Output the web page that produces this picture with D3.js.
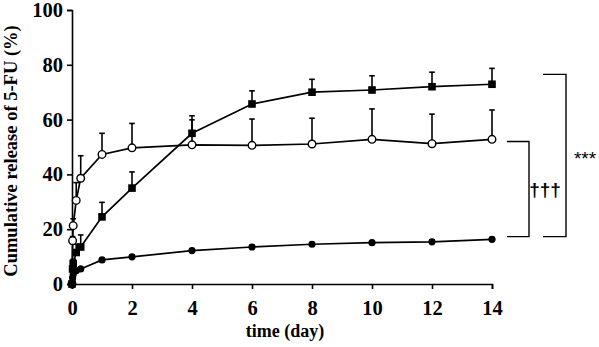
<!DOCTYPE html>
<html>
<head>
<meta charset="utf-8">
<script src="https://cdn.jsdelivr.net/npm/d3@7"></script>
<style>
  html, body { margin: 0; padding: 0; background: #fff; }
  svg { display: block; }
  text { font-family: "Liberation Serif", "Times New Roman", serif; font-weight: bold; fill: #000; }
</style>
</head>
<body>
<svg id="chart" width="599" height="347"></svg>
<script>
// ---- data (time in days, cumulative release %) ----
const times = [0, 0.02, 0.04, 0.14, 0.29, 1, 2, 4, 6, 8, 10, 12, 14];
const openValues   = [0, 15.8, 21.3, 30.5, 38.6, 47.3, 49.7, 50.8, 50.6, 51.1, 52.8, 51.2, 52.8];
const openSD       = [0, 1.5, 2.5, 6.5, 8.2, 7.7, 8.9, 9.1, 9.6, 9.4, 11.1, 10.8, 10.7];
const squareValues = [0, 5.5, 7.5, 11.5, 13.5, 24.5, 35.0, 55.0, 65.7, 70.0, 70.8, 72.0, 72.9];
const squareSD     = [0, 1.0, 1.5, 3.0, 4.4, 5.3, 5.9, 6.4, 4.8, 4.7, 5.2, 5.3, 5.8];
const filledValues = [0, 2.2, 3.5, 4.8, 5.5, 8.8, 9.9, 12.2, 13.5, 14.5, 15.1, 15.4, 16.3];
const filledSD     = [0, 0.3, 0.4, 0.5, 0.5, 0.6, 0.6, 0.7, 0.7, 0.7, 0.7, 0.7, 0.7];
const xTicks = [0, 2, 4, 6, 8, 10, 12, 14];
const yTicks = [0, 20, 40, 60, 80, 100];
const xTitle = "time (day)";
const yTitle = "Cumulative release of 5-FU (%)";
// significance brackets: [lower value, upper value, label]
const brackets = [
  { low: 17.3, high: 52.0, label: "†††" },
  { low: 17.3, high: 76.5, label: "***" }
];

// ---- layout ----
const svg = d3.select("#chart");
const x = d3.scaleLinear().domain([0, 14]).range([72, 492]);
const y = d3.scaleLinear().domain([0, 100]).range([284, 10]);

// axes
const xAxis = svg.append("g").attr("transform", `translate(0,${y(0)})`)
  .call(d3.axisBottom(x).tickValues(xTicks).tickSize(5).tickPadding(11).tickFormat(d3.format("d")));
const yAxis = svg.append("g").attr("transform", `translate(${x(0)},0)`)
  .call(d3.axisLeft(y).tickValues(yTicks).tickSize(5).tickPadding(4).tickFormat(d3.format("d")));
[xAxis, yAxis].forEach(g => {
  g.attr("font-family", null).attr("font-size", null);
  g.select(".domain").attr("stroke", "#000").attr("stroke-width", 1.6);
  g.selectAll(".tick line").attr("stroke", "#000").attr("stroke-width", 1.6);
  g.selectAll(".tick text").style("font-size", "20.5px").style("font-family", "'Liberation Serif', serif").style("font-weight", "bold");
});

// titles
svg.append("text").attr("x", 285).attr("y", 337).attr("text-anchor", "middle")
  .style("font-size", "18px").text(xTitle);
svg.append("text").attr("transform", "translate(16.5,151) rotate(-90)").attr("text-anchor", "middle")
  .style("font-size", "18.5px").text(yTitle);

// series
const series = [
  { values: squareValues, sd: squareSD, shape: "square" },
  { values: openValues, sd: openSD, shape: "open" },
  { values: filledValues, sd: filledSD, shape: "filled" }
];
const line = d3.line().x(d => x(d.t)).y(d => y(d.v));

series.forEach(s => {
  const pts = times.map((t, i) => ({ t, v: s.values[i], sd: s.sd[i] }));
  const g = svg.append("g");
  // upper error bars
  pts.filter(p => p.sd > 0).forEach(p => {
    g.append("line").attr("x1", x(p.t)).attr("x2", x(p.t)).attr("y1", y(p.v)).attr("y2", y(p.v + p.sd))
      .attr("stroke", "#000").attr("stroke-width", 1.6);
    g.append("line").attr("x1", x(p.t) - 2.8).attr("x2", x(p.t) + 2.8).attr("y1", y(p.v + p.sd)).attr("y2", y(p.v + p.sd))
      .attr("stroke", "#000").attr("stroke-width", 1.6);
  });
  g.append("path").datum(pts).attr("d", line).attr("fill", "none").attr("stroke", "#000").attr("stroke-width", 1.7);
  if (s.shape === "square") {
    g.selectAll("rect").data(pts).join("rect")
      .attr("x", d => x(d.t) - 3.8).attr("y", d => y(d.v) - 3.8).attr("width", 7.6).attr("height", 7.6).attr("fill", "#000");
  } else if (s.shape === "open") {
    g.selectAll("circle").data(pts).join("circle")
      .attr("cx", d => x(d.t)).attr("cy", d => y(d.v)).attr("r", 3.8)
      .attr("fill", "#fff").attr("stroke", "#000").attr("stroke-width", 1.4);
  } else {
    g.selectAll("circle").data(pts).join("circle")
      .attr("cx", d => x(d.t)).attr("cy", d => y(d.v)).attr("r", 3.6).attr("fill", "#000");
  }
});

// brackets
const bracketX = [{ x0: 507, x1: 529 }, { x0: 543, x1: 566 }];
brackets.forEach((b, i) => {
  const bx = bracketX[i];
  svg.append("path")
    .attr("d", `M${bx.x0},${y(b.high)}H${bx.x1}V${y(b.low)}H${bx.x0}`)
    .attr("fill", "none").attr("stroke", "#000").attr("stroke-width", 1.4);
});
svg.append("text").attr("x", 545).attr("y", y((brackets[0].low + brackets[0].high) / 2) + 7)
  .attr("text-anchor", "middle").style("font-size", "19px").style("font-family", "'Liberation Sans', sans-serif").style("font-weight", "bold").text(brackets[0].label);
svg.append("text").attr("x", 585).attr("y", y((brackets[1].low + brackets[1].high) / 2) + 10)
  .attr("text-anchor", "middle").style("font-size", "19px").style("font-family", "'Liberation Sans', sans-serif").style("font-weight", "normal").text(brackets[1].label);
</script>
</body>
</html>
